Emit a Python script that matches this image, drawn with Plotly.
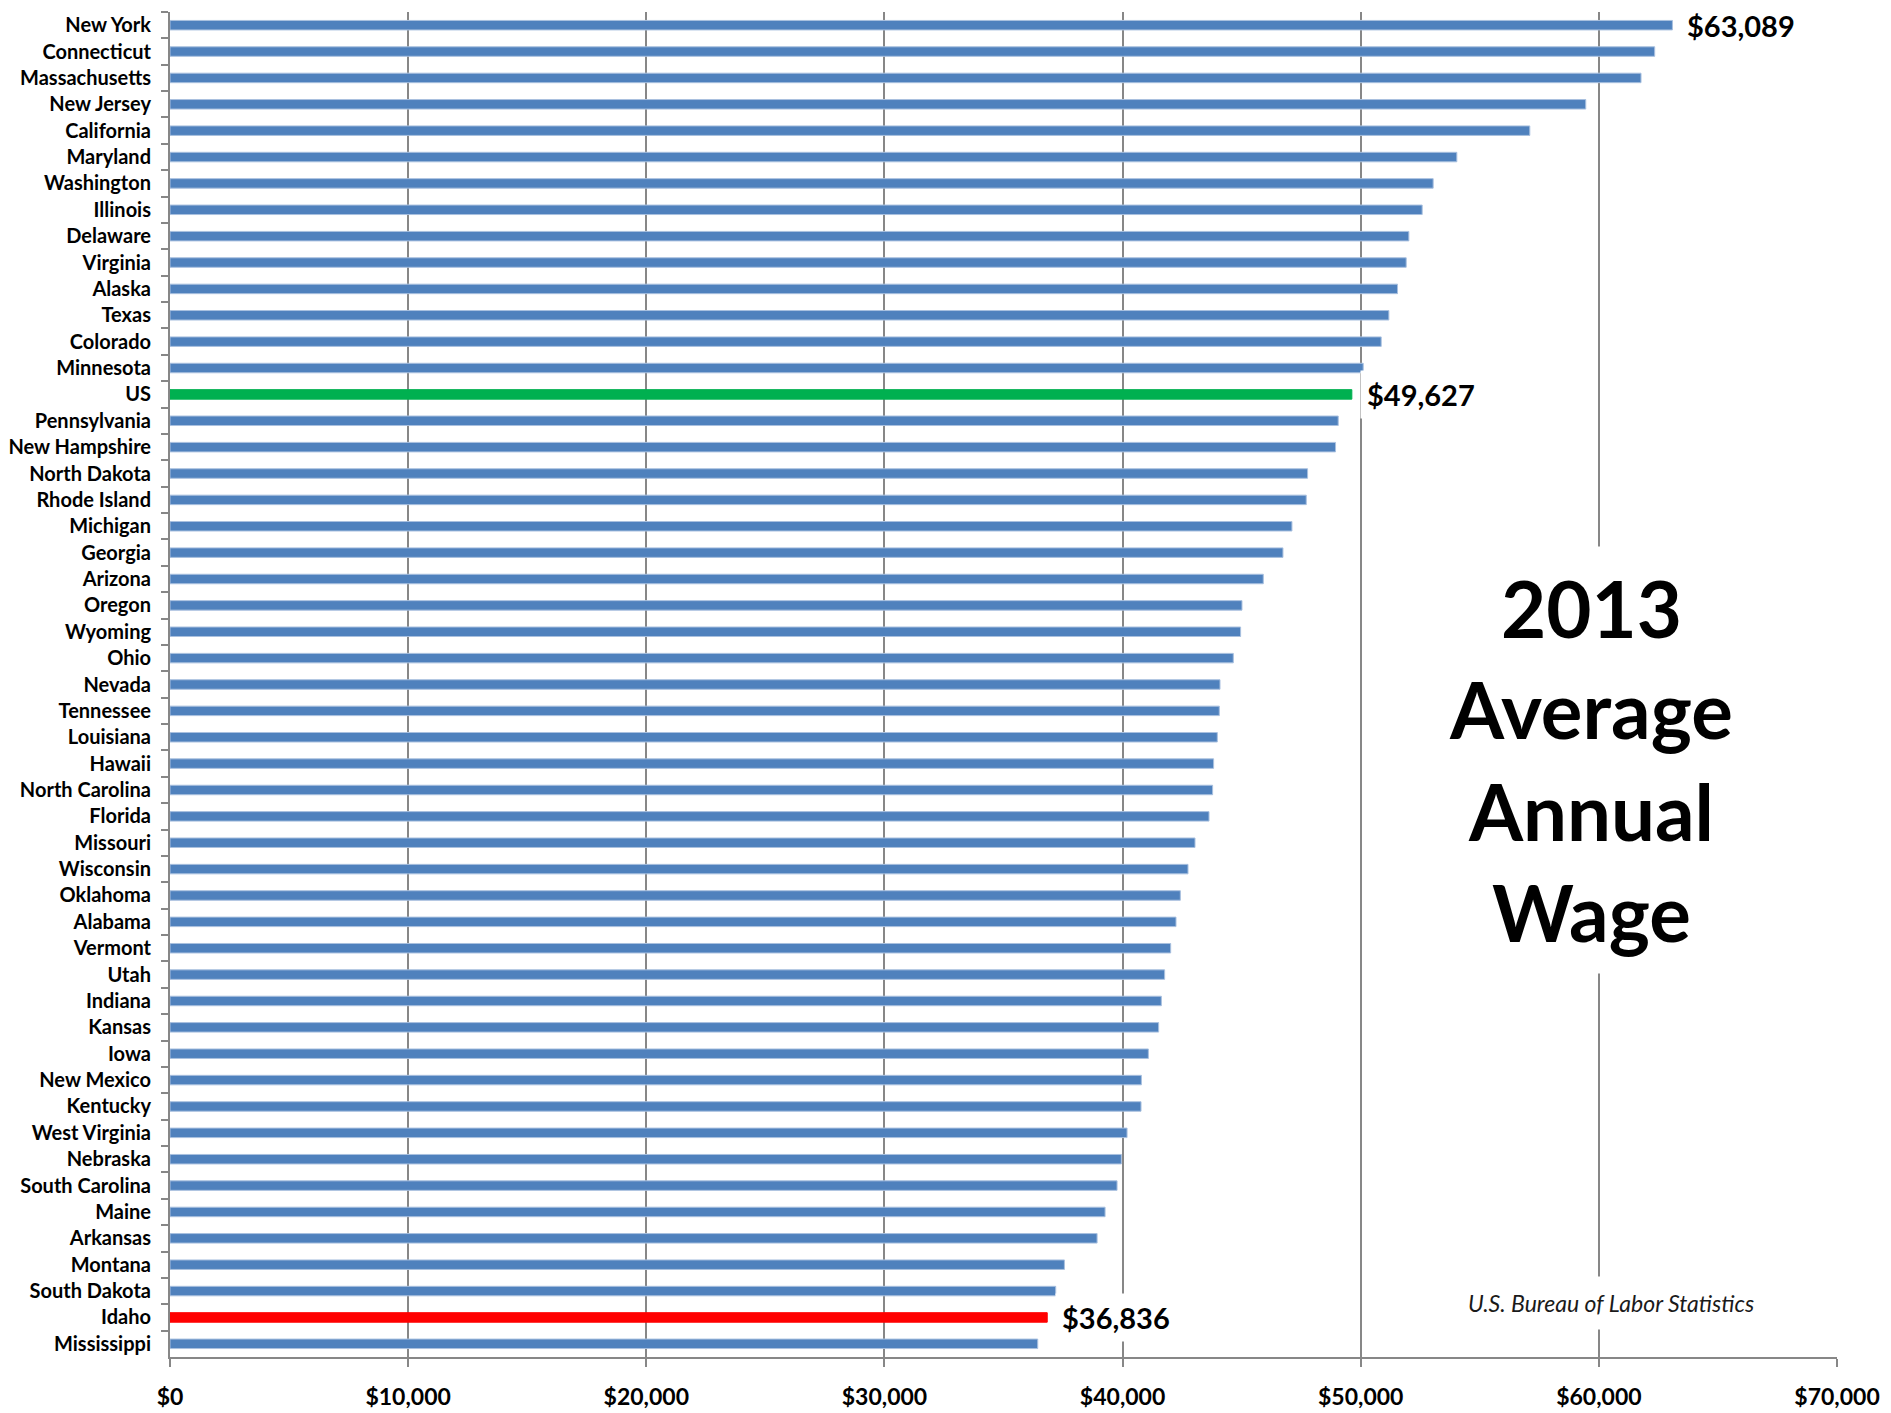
import plotly.graph_objects as go

states = ["New York", "Connecticut", "Massachusetts", "New Jersey", "California", "Maryland",
          "Washington", "Illinois", "Delaware", "Virginia", "Alaska", "Texas", "Colorado",
          "Minnesota", "US", "Pennsylvania", "New Hampshire", "North Dakota", "Rhode Island",
          "Michigan", "Georgia", "Arizona", "Oregon", "Wyoming", "Ohio", "Nevada", "Tennessee",
          "Louisiana", "Hawaii", "North Carolina", "Florida", "Missouri", "Wisconsin", "Oklahoma",
          "Alabama", "Vermont", "Utah", "Indiana", "Kansas", "Iowa", "New Mexico", "Kentucky",
          "West Virginia", "Nebraska", "South Carolina", "Maine", "Arkansas", "Montana",
          "South Dakota", "Idaho", "Mississippi"]

wages = [63089, 62345, 61771, 59450, 57100, 54036,
         53042, 52581, 52022, 51910, 51546, 51183, 50860,
         50105, 49627, 49056, 48943, 47769, 47713,
         47112, 46735, 45909, 45014, 44957, 44650, 44091, 44062,
         43978, 43823, 43781, 43630, 43042, 42748, 42426,
         42244, 42020, 41767, 41628, 41515, 41083, 40789, 40775,
         40188, 39950, 39768, 39265, 38930, 37558,
         37193, 36836, 36437]

labelled = ["New York", "US", "Idaho"]
tick_vals = [0, 10000, 20000, 30000, 40000, 50000, 60000, 70000]
tick_text = ["$0", "$10,000", "$20,000", "$30,000", "$40,000", "$50,000", "$60,000", "$70,000"]
title_lines = ["2013", "Average", "Annual", "Wage"]
source = "U.S. Bureau of Labor Statistics"

BLUE = "#4F81BD"
GREEN = "#00B050"
RED = "#FF0000"
GRID = "#878787"

colors = []
for s in states:
    if s == "US":
        colors.append(GREEN)
    elif s == "Idaho":
        colors.append(RED)
    else:
        colors.append(BLUE)
line_colors = ["#A9C0DF" if c == BLUE else c for c in colors]

fig = go.Figure()
fig.add_trace(go.Bar(
    x=wages, y=states, orientation="h",
    marker=dict(color=colors, line=dict(color=line_colors, width=1)),
    width=0.36, hoverinfo="x+y",
))

annotations = []
for s, v in zip(states, wages):
    if s in labelled:
        annotations.append(dict(
            x=v, y=s, xref="x", yref="y", text="$" + format(v, ","),
            showarrow=False, xanchor="left", yanchor="middle", xshift=8,
            bgcolor="white", borderpad=6,
            font=dict(family="Lato", size=29, color="black", weight="bold"),
        ))

annotations.append(dict(
    x=0.8524, y=0.4439, xref="paper", yref="paper",
    text="<br>".join(title_lines), showarrow=False,
    xanchor="center", yanchor="middle", align="center",
    bgcolor="white", borderpad=14,
    font=dict(family="Lato", size=78, color="black", weight="bold"),
))
annotations.append(dict(
    x=0.8647, y=0.0402, xref="paper", yref="paper",
    text="<i>" + source + "</i>", showarrow=False,
    xanchor="center", yanchor="middle",
    bgcolor="white", borderpad=12,
    font=dict(family="Lato", size=23, color="#1a1a1a"),
))

n = len(states)
fig.update_layout(
    width=1891, height=1413,
    margin=dict(l=162, r=62, t=4, b=64),
    paper_bgcolor="white", plot_bgcolor="white",
    showlegend=False, bargap=0.6,
    annotations=annotations,
)
fig.update_xaxes(
    range=[0, 70000], tickvals=tick_vals, ticktext=tick_text,
    showgrid=True, gridcolor=GRID, gridwidth=2,
    showline=True, linecolor=GRID, linewidth=2,
    ticks="outside", ticklen=8, tickwidth=2, tickcolor=GRID,
    zeroline=False, ticklabelstandoff=10, automargin=False,
    tickfont=dict(family="Lato", size=23, color="black", weight="bold"),
)
fig.update_yaxes(
    categoryorder="array", categoryarray=states, range=[n - 0.5, -0.5],
    showgrid=False, showline=True, linecolor=GRID, linewidth=2,
    ticks="outside", ticklen=7, tickwidth=2, tickcolor=GRID,
    tickson="boundaries", ticklabelstandoff=13, automargin=False,
    tickfont=dict(family="Lato", size=20, color="black", weight="bold"),
)

fig.write_html("out.html")
